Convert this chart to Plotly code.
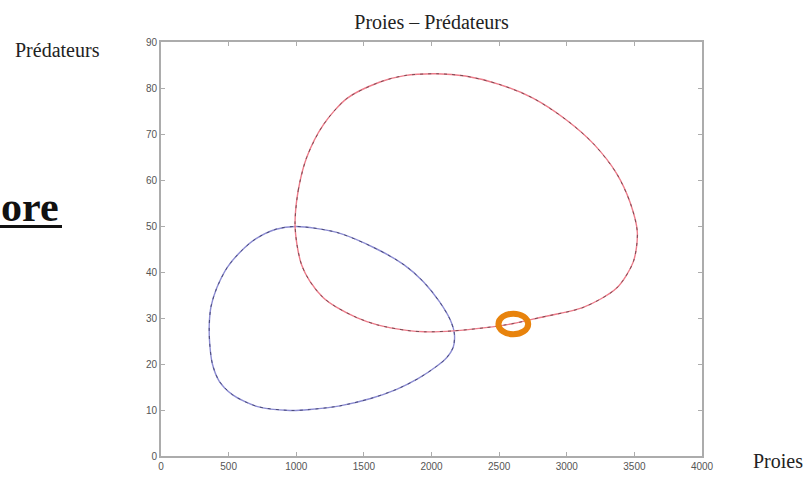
import plotly.graph_objects as go

# Cycle 1 (blue): prey, predators
blue_prey = [1000, 1300, 1595, 1800, 1940, 2060, 2140, 2169, 2161, 2110, 2038, 1900,
             1742, 1550, 1323, 1100, 954, 707, 530, 430, 380, 360, 357, 370, 412, 490,
             584, 700, 850, 1000]
blue_pred = [49.9, 48.6, 45.0, 41.5, 37.9, 33.5, 29.5, 26.6, 23.7, 21.3, 19.5, 16.8,
             14.5, 12.5, 10.9, 10.1, 9.9, 10.8, 13.3, 16.3, 20.0, 24.5, 28.7, 32.5, 36.5, 41.0,
             44.3, 47.2, 49.3, 49.9]

# Cycle 2 (red): prey, predators
red_prey = [991, 1015, 1077, 1200, 1373, 1619, 1800, 2038, 2250, 2500, 2750, 3000,
            3200, 3369, 3470, 3522, 3492, 3369, 3122, 2802, 2605, 2400, 2161, 1950,
            1817, 1600, 1447, 1300, 1200, 1100, 1040, 1005, 991]
red_pred = [50.7, 57.8, 64.9, 72.0, 77.7, 81.3, 82.7, 83.1, 82.6, 80.8, 77.8, 73.0,
            67.8, 61.4, 55.0, 48.6, 42.2, 36.5, 32.3, 30.1, 28.8, 27.9, 27.2, 27.0,
            27.3, 28.5, 30.1, 32.3, 34.4, 38.0, 41.5, 46.0, 50.7]

# Highlighted point on the red cycle
mark_prey, mark_pred = 2605, 28.7

x_ticks = [0, 500, 1000, 1500, 2000, 2500, 3000, 3500, 4000]
y_ticks = [0, 10, 20, 30, 40, 50, 60, 70, 80, 90]

fig = go.Figure()

for xs, ys, base, dark in [(blue_prey, blue_pred, "#8c8cd2", "#4a4a78"),
                           (red_prey, red_pred, "#ec7c8a", "#7a4a52")]:
    fig.add_trace(go.Scatter(x=xs, y=ys, mode="lines",
                             line=dict(color=base, width=1.4, shape="spline", smoothing=0.8),
                             hoverinfo="skip", showlegend=False))
    fig.add_trace(go.Scatter(x=xs, y=ys, mode="lines",
                             line=dict(color=dark, width=1.0, dash="3px,5px",
                                       shape="spline", smoothing=0.8),
                             hoverinfo="skip", showlegend=False))

# Orange ring around the highlighted point
fig.add_shape(type="circle", xref="x", yref="y",
              x0=mark_prey - 110, x1=mark_prey + 110,
              y0=mark_pred - 2.25, y1=mark_pred + 2.25,
              line=dict(color="#e8830c", width=6))

axis_common = dict(showline=True, linecolor="#acacac", linewidth=2, mirror="ticks",
                   ticks="inside", ticklen=4, tickcolor="#acacac", showgrid=False,
                   zeroline=False, tickfont=dict(family="Arial", size=10, color="#555555"))

fig.update_xaxes(range=[0, 4000], tickvals=x_ticks, ticktext=[str(v) for v in x_ticks],
                 **axis_common)
fig.update_yaxes(range=[0, 90], tickvals=y_ticks, ticktext=[str(v) for v in y_ticks],
                 **axis_common)

serif = "Liberation Serif"
fig.update_layout(
    width=808, height=484,
    margin=dict(l=161, r=106, t=42, b=20),
    paper_bgcolor="white", plot_bgcolor="white",
    title=dict(text="Proies – Prédateurs", x=0.5, xanchor="center", xref="paper",
               y=1 - 21.5 / 484, yanchor="middle",
               font=dict(family=serif, size=20, color="#222222")),
)

W = 808 - 161 - 106
H = 484 - 42 - 20

def px(xpix):
    return (xpix - 161) / W

def py(ypix):
    return (484 - 20 - ypix) / H

fig.add_annotation(text="Prédateurs", xref="paper", yref="paper", x=px(57), y=py(50),
                   xanchor="center", yanchor="middle", showarrow=False,
                   font=dict(family=serif, size=20, color="#222222"))
fig.add_annotation(text="Proies", xref="paper", yref="paper", x=px(778), y=py(469),
                   xanchor="center", yanchor="middle", showarrow=False,
                   font=dict(family=serif, size=20, color="#222222"))
fig.add_annotation(text="<b>ore</b>", xref="paper", yref="paper", x=px(-1), y=py(210),
                   xanchor="left", yanchor="middle", showarrow=False,
                   font=dict(family=serif, size=42, color="#111111"))
fig.add_shape(type="line", xref="paper", yref="paper", x0=px(-5), x1=px(62),
              y0=py(230), y1=py(230), line=dict(color="#111111", width=3))

fig.write_html("out.html")
